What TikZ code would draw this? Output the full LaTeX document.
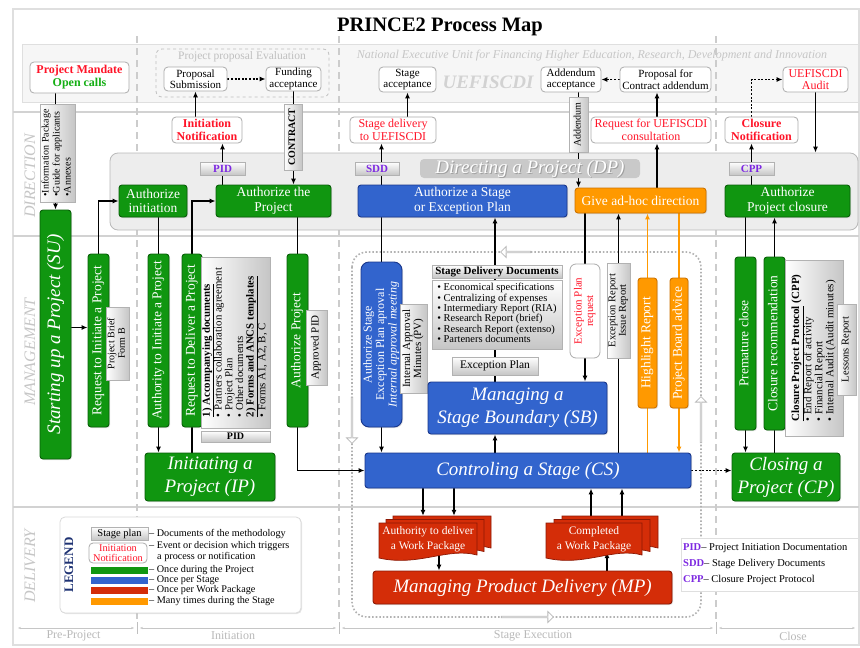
\documentclass[tikz,border=0pt]{standalone}
\usepackage{fontspec}
\setmainfont{Liberation Serif}
\usepackage{graphicx}
\usetikzlibrary{arrows.meta,shadows,shapes.arrows,calc}

\definecolor{cgreen}{RGB}{16,150,16}
\definecolor{cgreenD}{RGB}{8,95,8}
\definecolor{cblue}{RGB}{50,100,205}
\definecolor{cblueD}{RGB}{25,55,140}
\definecolor{cred}{RGB}{212,45,8}
\definecolor{credD}{RGB}{140,25,5}
\definecolor{corange}{RGB}{255,153,0}
\definecolor{corangeD}{RGB}{205,115,0}
\definecolor{evred}{RGB}{255,20,40}
\definecolor{evgreen}{RGB}{20,175,20}
\definecolor{abbrpurple}{RGB}{125,40,225}
\definecolor{legblue}{RGB}{30,50,115}

\newcommand\fsTitle{\fontsize{20.5}{22}\selectfont\bfseries}
\newcommand\fsBig{\fontsize{19}{23}\selectfont\itshape}
\newcommand\fsMid{\fontsize{13.5}{14.5}\selectfont}
\newcommand\fsEv{\fontsize{12}{12.5}\selectfont}
\newcommand\fsTop{\fontsize{11}{11.5}\selectfont}
\newcommand\fsLeg{\fontsize{10.2}{10.5}\selectfont}

% rotated (bottom-to-top) multi-line text, centred or left aligned
\newcommand\vtc[1]{\rotatebox{90}{\begin{tabular}{@{}c@{}}#1\end{tabular}}}
\newcommand\vtl[1]{\rotatebox{90}{\begin{tabular}{@{}l@{}}#1\end{tabular}}}

% stacked work package sheet with wavy lower edge (x, y = top left; w, h)
\newcommand\wavedoc[4]{%
  \filldraw[fill=cred, draw=credD, line width=0.7pt] (#1,#2) -- ({#1+#3},#2) -- ({#1+#3},{#2+#4-6})
    .. controls ({#1+0.7*#3},{#2+#4-14}) and ({#1+0.4*#3},{#2+#4+6}) .. (#1,{#2+#4-3}) -- cycle;}

\pgfdeclarelayer{back}
\pgfdeclarelayer{lines}
\pgfsetlayers{back,lines,main}

\tikzset{
  x=1pt, y=-1pt,
  every node/.style={inner sep=1pt},
  box/.style={rounded corners=3pt, align=center, line width=0.9pt, inner sep=1pt,
    drop shadow={shadow xshift=1pt, shadow yshift=-1pt, opacity=0.25}},
  gbox/.style={box, fill=cgreen, draw=cgreenD, text=white, font=\fsMid},
  bbox/.style={box, fill=cblue, draw=cblueD, text=white, font=\fsMid},
  obox/.style={box, fill=corange, draw=corangeD, text=white, font=\fsMid},
  rbox/.style={box, fill=cred, draw=credD, text=white, font=\fsBig},
  evbox/.style={rounded corners=4pt, align=center, inner sep=1pt, fill=white, draw=gray!65,
    line width=0.8pt, text=evred, font=\fsEv},
  topbox/.style={rounded corners=4pt, align=center, inner sep=1pt, fill=white, draw=gray!65,
    line width=0.8pt, font=\fsTop, text=black},
  docbase/.style={draw=gray!60, line width=0.5pt, align=center, inner sep=1pt,
    drop shadow={shadow xshift=1.2pt, shadow yshift=-1.2pt, opacity=0.35}},
  doch/.style={docbase, top color=white, bottom color=gray!45},
  docv/.style={docbase, left color=white, right color=gray!45},
  tagbox/.style={doch, minimum height=13, font=\fontsize{11}{11}\selectfont\bfseries, text=abbrpurple},
  arr/.style={-{Latex[length=6pt,width=5pt]}, line width=1.2pt},
  plain/.style={line width=1.2pt},
  oarr/.style={arr, draw=corange},
  dotarr/.style={arr, dash pattern=on 2pt off 1.6pt, line width=1.8pt},
  lanelab/.style={font=\fontsize{16}{16}\selectfont\itshape, text=gray!45},
  phase/.style={font=\fontsize{12}{12}\selectfont, text=gray!55},
  hollow/.style={single arrow, draw=gray!55, fill=white, minimum width=11, inner sep=0,
    single arrow head extend=2.5pt, line width=0.8pt},
  legtext/.style={anchor=west, font=\fsLeg},
  abbrtext/.style={anchor=west, font=\fontsize{10.5}{11}\selectfont},
}

\begin{document}
\begin{tikzpicture}
\useasboundingbox (0,0) rectangle (860,648);

% ---------- frame, lanes, phases ----------
\begin{pgfonlayer}{back}
  \fill[white] (0,0) rectangle (860,648);
  \draw[gray!25, line width=2.5pt] (13,9) rectangle (859,645);
  \draw[gray!25, fill=gray!7] (22,44) rectangle (858,102);
  \foreach \yy in {112,236,507}
    \draw[gray!35, line width=1.6pt] (13,\yy) -- (859,\yy);
  \foreach \xx in {137,339,716}
    \draw[gray!40, line width=1.6pt, dash pattern=on 7pt off 5pt] (\xx,36) -- (\xx,620);
  % phase ruler
  \draw[gray!45, line width=0.7pt, {Stealth[length=3pt]}-{Stealth[length=3pt]}] (18,628) -- (134,628);
  \draw[gray!45, line width=0.7pt, {Stealth[length=3pt]}-{Stealth[length=3pt]}] (140,628) -- (336,628);
  \draw[gray!45, line width=0.7pt, {Stealth[length=3pt]}-{Stealth[length=3pt]}] (342,628) -- (713,628);
  \draw[gray!45, line width=0.7pt, {Stealth[length=3pt]}-{Stealth[length=3pt]}] (719,628) -- (855,628);
  \foreach \xx in {137,339,716}
    \draw[gray!50, line width=1pt] (\xx,622) -- (\xx,634);
  % directing area
  \node[draw=gray!55, fill=gray!14, rounded corners=8pt, minimum width=748, minimum height=77,
    line width=0.8pt] (dp) at (484,191.5) {};
  % project proposal evaluation group
  \draw[gray!50, dashed, rounded corners=6pt, line width=0.8pt] (156,49) rectangle (329,97);
  % stage execution loop
  \draw[gray!60, line width=1.6pt, dash pattern=on 1.6pt off 2pt, rounded corners=15pt]
    (352,252) rectangle (701,617);
  \node[hollow, minimum height=30, rotate=180] (loopN) at (516,252) {};
  \node[hollow, minimum height=46, rotate=-90] (loopW) at (352,420) {};
  \node[hollow, minimum height=52] (loopS) at (527,617) {};
  \node[hollow, minimum height=46, rotate=90] (loopE) at (701,420) {};
\end{pgfonlayer}

\node[font=\fsTitle] (title) at (440,27) {PRINCE2 Process Map};
\node[lanelab, rotate=90] (lanedir) at (30,176) {DIRECTION};
\node[lanelab, rotate=90] (lanemgt) at (30,352) {MANAGEMENT};
\node[lanelab, rotate=90] (lanedel) at (30,566) {DELIVERY};
\node[phase] (ph1) at (73.5,636) {Pre-Project};
\node[phase] (ph2) at (233,636) {Initiation};
\node[phase] (ph3) at (533,636) {Stage Execution};
\node[phase] (ph4) at (793,636) {Close};

% ---------- funding body band ----------
\node[topbox, minimum width=99, minimum height=31, font=\fontsize{12}{13}\selectfont\bfseries] (mandate)
  at (79.5,77.5) {\textcolor{evred}{Project Mandate}\\\textcolor{evgreen}{Open calls}};
\node[font=\fontsize{11.5}{12}\selectfont, text=gray!50] (evallab) at (242,57) {Project proposal Evaluation};
\node[topbox, minimum width=63, minimum height=24] (propsub) at (195.5,79) {Proposal\\Submission};
\node[topbox, minimum width=55, minimum height=24] (funding) at (293.5,79) {Funding\\acceptance};
\node[font=\fontsize{12}{12.5}\selectfont\itshape, text=gray!45] (natunit) at (592,56)
  {National Executive Unit for Financing Higher Education, Research, Development and Innovation};
\node[font=\fontsize{19}{20}\selectfont\bfseries\itshape, text=gray!35] (uef) at (488,82) {UEFISCDI};
\node[topbox, minimum width=57, minimum height=25] (stageacc) at (407.5,79.5) {Stage\\acceptance};
\node[topbox, minimum width=60, minimum height=25] (addacc) at (571,79.5) {Addendum\\acceptance};
\node[topbox, minimum width=91, minimum height=25] (propadd) at (665.5,79.5) {Proposal for\\Contract addendum};
\node[topbox, minimum width=65, minimum height=25, text=evred, font=\fsEv] (audit) at (815.5,79.5) {UEFISCDI\\Audit};

% ---------- direction lane ----------
\node[docv, minimum width=35, minimum height=98, font=\fontsize{10}{11}\selectfont] (infopkg) at (57.5,153)
  {\vtl{•Information Package\\•Guide for applicants\\•Annexes}};
\node[evbox, minimum width=70, minimum height=26, font=\fontsize{12}{12.5}\selectfont\bfseries] (initnotif)
  at (207,130) {Initiation\\Notification};
\node[docv, minimum width=18, minimum height=66, font=\fontsize{10}{11}\selectfont\bfseries] (contract)
  at (293,137) {\vtc{CONTRACT}};
\node[evbox, minimum width=86, minimum height=26] (stagedel) at (393,130) {Stage delivery\\to UEFISCDI};
\node[docv, minimum width=19, minimum height=55, font=\fontsize{10}{11}\selectfont] (addendum)
  at (578.5,124.5) {\vtc{Addendum}};
\node[evbox, minimum width=120, minimum height=26] (reqcons) at (651,130) {Request for UEFISCDI\\consultation};
\node[evbox, minimum width=73, minimum height=26, font=\fontsize{12}{12.5}\selectfont\bfseries] (closnotif)
  at (761.5,130) {Closure\\Notification};

\node[fill=gray!42, rounded corners=4pt, minimum width=220, minimum height=19] (dplabel) at (530,168.5) {};
\node[font=\fontsize{19}{20}\selectfont\itshape, text=gray!75] (dpshade) at (531,169.5) {Directing a Project (DP)};
\node[font=\fontsize{19}{20}\selectfont\itshape, text=white] (dptext) at (530,168.5) {Directing a Project (DP)};

\node[tagbox, minimum width=45] (pidtag) at (222.5,168.5) {PID};
\node[tagbox, minimum width=44] (sddtag) at (377,168.5) {SDD};
\node[tagbox, minimum width=45] (cpptag) at (751.5,168.5) {CPP};

\node[gbox, minimum width=68, minimum height=32] (authinit) at (153,201) {Authorize\\initiation};
\node[gbox, minimum width=115, minimum height=32] (authproj) at (273.5,201) {Authorize the\\Project};
\node[bbox, minimum width=209, minimum height=32] (authstage) at (462.5,201) {Authorize a Stage\\or Exception Plan};
\node[obox, minimum width=131, minimum height=25] (adhoc) at (640.5,200.5) {Give ad-hoc direction};
\node[gbox, minimum width=125, minimum height=32] (authclose) at (787.5,201) {Authorize\\Project closure};

% ---------- management lane ----------
\node[gbox, minimum width=31, minimum height=249, font=\fsBig] (su) at (55.5,334.5) {\vtc{Starting up a Project (SU)}};
\node[gbox, minimum width=21, minimum height=173] (reqinit) at (98.5,340.5) {\vtc{Request to Initiate a Project}};
\node[docv, minimum width=23, minimum height=73, font=\fontsize{10}{10.5}\selectfont] (brief) at (117.5,343.5)
  {\vtc{Project Brief\\Form B}};
\node[gbox, minimum width=21, minimum height=173] (authority) at (158.5,340.5) {\vtc{Authority to Initiate a Project}};
\node[gbox, minimum width=20, minimum height=173] (reqdel) at (192,340.5) {\vtc{Request to Deliver a Project}};
\node[docv, minimum width=69, minimum height=171, font=\fontsize{10.8}{10.6}\selectfont] (piddoc) at (235.5,342.5)
  {\vtl{\textbf{\underline{1) Accompanying documents}}\\• Partners collaboration agreement\\• Project Plan\\%
   • Other documents\\\textbf{\underline{2) Forms and ANCS templates}}\\• Forms A1, A2, B, C}};
\node[doch, minimum width=69, minimum height=11, font=\fontsize{10}{10}\selectfont\bfseries] (pidbar) at (235.5,436.5) {PID};
\node[gbox, minimum width=130, minimum height=48, font=\fsBig] (ip) at (210,477) {Initiating a\\Project (IP)};
\node[gbox, minimum width=21, minimum height=173] (authproj2) at (297.5,340.5) {\vtc{Authorize Project}};
\node[docv, minimum width=21, minimum height=75, font=\fontsize{11}{11}\selectfont] (apppid) at (316.5,347.5)
  {\vtc{Approved PID}};

\node[bbox, rounded corners=8pt, minimum width=41, minimum height=165, font=\fontsize{12}{12.5}\selectfont] (authstage2)
  at (381.5,344.5) {\vtc{Authorize Stage\\Exception Plan aproval\\\textit{Internal approval meeting}}};
\node[docv, minimum width=27, minimum height=89, font=\fontsize{11}{11}\selectfont] (pv) at (413.5,348.5)
  {\vtc{Internal Approval\\Minutes (PV)}};
\node[doch, minimum width=130, minimum height=13, font=\fontsize{11}{11}\selectfont\bfseries] (sddhead) at (497,271.5)
  {Stage Delivery Documents};
\node[doch, minimum width=130, minimum height=69, font=\fontsize{10.5}{10.2}\selectfont] (sddlist) at (497,314.5)
  {\begin{tabular}{@{}l@{}}• Economical specifications\\• Centralizing of expenses\\• Intermediary Report (RIA)\\%
   • Research Report (brief)\\• Research Report (extenso)\\• Parteners documents\end{tabular}};
\node[doch, minimum width=86, minimum height=18, font=\fontsize{11.5}{12}\selectfont] (exceptplan) at (495,366) {Exception Plan};
\node[bbox, minimum width=179, minimum height=52, font=\fsBig] (sb) at (517.5,408) {Managing a\\Stage Boundary (SB)};
\node[evbox, rounded corners=6pt, minimum width=30, minimum height=94, font=\fontsize{11}{11.5}\selectfont] (eprequest)
  at (585,311) {\vtc{Exception Plan\\request}};
\node[docv, minimum width=23, minimum height=95, font=\fontsize{10.5}{10.5}\selectfont] (exreport) at (618.5,310.5)
  {\vtc{Exception Report\\Issue Report}};
\node[obox, minimum width=19, minimum height=130] (highlight) at (647.5,343) {\vtc{Highlight Report}};
\node[obox, minimum width=18, minimum height=130] (boardadv) at (679,343) {\vtc{Project Board advice}};
\node[bbox, minimum width=326, minimum height=35, font=\fsBig] (cs) at (528,470.5) {Controling a Stage (CS)};

\node[gbox, minimum width=21, minimum height=173] (premature) at (745.5,343.5) {\vtc{Premature close}};
\node[gbox, minimum width=21, minimum height=173] (closrec) at (774.5,343.5) {\vtc{Closure recommendation}};
\node[docv, minimum width=58, minimum height=176, font=\fontsize{11}{11}\selectfont] (cppdoc) at (814,348)
  {\vtl{\textbf{\underline{Closure Project Protocol} (CPP)}\\• End Report of activity\\• Financial Report\\%
   • Internal Audit (Audit minutes)}};
\node[docv, minimum width=19, minimum height=91, font=\fontsize{10.5}{11}\selectfont] (lessons) at (846.5,349.5)
  {\vtc{Lessons Report}};
\node[gbox, minimum width=108, minimum height=48, font=\fsBig] (cp) at (786,477) {Closing a\\Project (CP)};

% ---------- delivery lane ----------
\node[draw=gray!30, fill=white, rounded corners=5pt, minimum width=241, minimum height=96, line width=0.8pt,
  drop shadow={shadow xshift=1pt, shadow yshift=-1pt, opacity=0.2}] (legend) at (180.5,565) {};
\node[rotate=90, font=\fontsize{13}{13}\selectfont\bfseries, text=legblue] (legtitle) at (69,565) {LEGEND};
\node[doch, minimum width=57, minimum height=13, font=\fontsize{10.5}{11}\selectfont] (legdoc) at (119.5,533.5) {Stage plan};
\node[evbox, minimum width=58, minimum height=20, font=\fontsize{10.3}{10}\selectfont] (legev) at (118,553)
  {Initiation\\Notification};
\node[fill=cgreen, minimum width=57, minimum height=7, inner sep=0] (leggreen) at (119.5,570) {};
\node[fill=cblue, minimum width=57, minimum height=7, inner sep=0] (legblue) at (119.5,580.5) {};
\node[fill=cred, minimum width=57, minimum height=7, inner sep=0] (legred) at (119.5,590.5) {};
\node[fill=corange, minimum width=57, minimum height=7, inner sep=0] (legorange) at (119.5,601) {};
\node[legtext] (legt1) at (148,534) {– Documents of the methodology};
\node[legtext] (legt2) at (148,546.5) {– Event or decision which triggers};
\node[legtext] (legt2b) at (156,557) {a process or notification};
\node[legtext] (legt3) at (148,570) {– Once during the Project};
\node[legtext] (legt4) at (148,580.5) {– Once per Stage};
\node[legtext] (legt5) at (148,590.5) {– Once per Work Package};
\node[legtext] (legt6) at (148,601) {– Many times during the Stage};

\wavedoc{393}{516}{98}{38}
\wavedoc{386}{519.5}{98}{38}
\wavedoc{379}{523}{98}{38}
\node[text=white, font=\fontsize{11.5}{14.5}\selectfont, align=center, minimum width=98, minimum height=32] (authwp)
  at (428,539) {Authority to deliver\\a Work Package};
\wavedoc{562}{516}{96}{38}
\wavedoc{554}{519.5}{96}{38}
\wavedoc{546}{523}{96}{38}
\node[text=white, font=\fontsize{11.5}{14.5}\selectfont, align=center, minimum width=96, minimum height=32] (cwp)
  at (594,539) {Completed\\a Work Package};
\node[rbox, minimum width=299, minimum height=33] (mp) at (522.5,587.5) {Managing Product Delivery (MP)};

\node[draw=gray!25, fill=white, minimum width=177, minimum height=53, line width=0.6pt,
  drop shadow={shadow xshift=1pt, shadow yshift=-1pt, opacity=0.2}] (abbr) at (769.5,564.5) {};
\node[abbrtext] (abbr1) at (682,548) {\textcolor{abbrpurple}{\textbf{PID}}– Project Initiation Documentation};
\node[abbrtext] (abbr2) at (682,564) {\textcolor{abbrpurple}{\textbf{SDD}}– Stage Delivery Documents};
\node[abbrtext] (abbr3) at (682,580) {\textcolor{abbrpurple}{\textbf{CPP}}– Closure Project Protocol};

% ---------- connectors ----------
\begin{pgfonlayer}{lines}
  \draw[arr] (mandate.south -| su.north) -- (su.north);
  \draw[arr] ([yshift=7pt]su.east) -- ([yshift=7pt]su.east -| reqinit.west);
  \draw[arr] (reqinit.north) |- (authinit.west);
  \draw[plain] (authinit.south -| authority.north) -- (authority.north);
  \draw[arr] (reqdel.north) |- (authproj.west);
  \draw[arr] (authority.south) -- (authority.south |- ip.north);
  \draw[plain] (reqdel.south) -- (reqdel.south |- ip.north);
  \draw[plain] (authproj.south -| authproj2.north) -- (authproj2.north);
  \draw[arr] (authproj.north -| pidtag) -- (pidtag |- initnotif.south);
  \draw[arr] (initnotif.north -| propsub.south) -- (propsub.south);
  \draw[arr] (funding.south) -- (funding.south |- authproj.north);
  \draw[dotarr] (propsub.east) -- (funding.west);
  \draw[arr] (authproj2.south) |- (cs.west);
  \draw[plain] (authstage.south -| authstage2.north) -- (authstage2.north);
  \draw[arr] (authstage2.south) -- (authstage2.south |- cs.north);
  \draw[arr] (authstage.north -| authstage2) -- (authstage2 |- stagedel.south);
  \draw[arr] (stagedel.north -| stageacc.south) -- (stageacc.south);
  \draw[arr] (sb.north -| exceptplan) -- (exceptplan |- authstage.south);
  \draw[arr] (cs.north -| exceptplan) -- (exceptplan |- sb.south);
  \draw[plain] (adhoc.south -| eprequest.north) -- (eprequest.north);
  \draw[arr] (eprequest.south) -- (eprequest.south |- sb.north);
  \draw[arr] (cs.north -| exreport) -- (exreport |- adhoc.south);
  \draw[oarr] (cs.north -| highlight) -- (highlight |- adhoc.south);
  \draw[oarr] (adhoc.south -| boardadv) -- (boardadv |- cs.north);
  \draw[arr] (addacc.south -| addendum) -- (addendum |- adhoc.north);
  \draw[arr] ([xshift=6pt]reqcons.south |- adhoc.north) -- ([xshift=6pt]reqcons.south);
  \draw[arr] ([xshift=6pt]reqcons.north) -- ([xshift=6pt]reqcons.north |- propadd.south);
  \draw[dotarr] (propadd.west) -- (addacc.east);
  \draw[arr] (authclose.north -| cpptag) -- (cpptag |- closnotif.south);
  \draw[dotarr] (closnotif.north -| cpptag) |- (audit.west);
  \draw[arr] (audit.south) -- (audit.south |- dp.north);
  \draw[plain] (authclose.south -| premature.north) -- (premature.north);
  \draw[arr] (premature.south) -- (premature.south |- cp.north);
  \draw[arr] (closrec.north) -- (closrec.north |- authclose.south);
  \draw[plain] (cp.north -| closrec.south) -- (closrec.south);
  \draw[dotarr] (cs.east) -- (cs.east -| cp.west);
  \draw[arr] ([xshift=-5pt]authwp.north |- cs.south) -- ([xshift=-5pt,yshift=7pt]authwp.north);
  \draw[arr] ([xshift=26pt]authwp.north |- cs.south) -- ([xshift=26pt,yshift=7pt]authwp.north);
  \draw[arr] ([xshift=11pt]authwp.south) -- ([xshift=11pt]authwp.south |- mp.north);
  \draw[arr] ([xshift=-3pt,yshift=7pt]cwp.north) -- ([xshift=-3pt]cwp.north |- cs.south);
  \draw[arr] ([xshift=28pt,yshift=7pt]cwp.north) -- ([xshift=28pt]cwp.north |- cs.south);
  \draw[arr] ([xshift=13pt]cwp.south |- mp.north) -- ([xshift=13pt,yshift=3pt]cwp.south);
\end{pgfonlayer}
\end{tikzpicture}
\end{document}
